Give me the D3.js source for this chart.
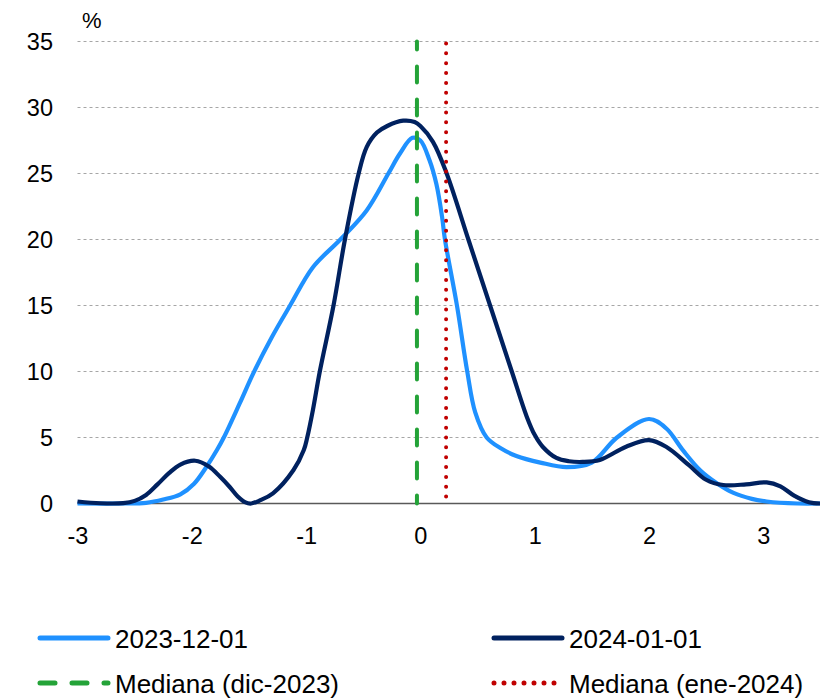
<!DOCTYPE html>
<html><head><meta charset="utf-8">
<script src="https://cdn.jsdelivr.net/npm/d3@7"></script>
<style>body{margin:0;background:#fff}svg{display:block}text{font-family:"Liberation Sans",Arial,Helvetica,sans-serif}</style>
</head><body><svg id="c" width="820" height="698"></svg>
<script>
const xTicks = [-3,-2,-1,0,1,2,3];
const yTicks = [0,5,10,15,20,25,30,35];
const dec_x = [-3,-2.6,-2.4,-2.25,-2.1,-1.98,-1.87,-1.78,-1.72,-1.58,-1.46,-1.3,-1.14,-0.94,-0.7,-0.47,-0.28,-0.18,-0.07,0.0,0.08,0.14,0.19,0.215,0.32,0.41,0.48,0.58,0.7,0.84,1.05,1.28,1.5,1.72,2.0,2.15,2.3,2.45,2.6,2.74,2.9,3.03,3.3,3.5];
const dec_y = [0,0,0.05,0.3,0.7,1.5,2.8,4.05,5.0,7.6,9.9,12.6,15.0,17.9,20.0,22.2,25.0,26.5,27.7,27.5,26.0,24.2,21.7,20.0,15.0,10.0,6.9,5.0,4.2,3.6,3.1,2.75,3.1,5.0,6.4,5.7,4.0,2.5,1.5,0.8,0.35,0.15,0,0];
const jan_x = [-3,-2.8,-2.6,-2.5,-2.4,-2.3,-2.2,-2.1,-1.97,-1.85,-1.75,-1.67,-1.6,-1.53,-1.48,-1.4,-1.29,-1.11,-1.02,-0.99,-0.94,-0.88,-0.76,-0.66,-0.54,-0.47,-0.38,-0.29,-0.15,-0.05,0.0,0.11,0.23,0.42,0.61,0.8,0.93,1.0,1.07,1.19,1.3,1.42,1.57,1.8,2.0,2.15,2.35,2.5,2.65,2.85,3.03,3.15,3.27,3.4,3.5];
const jan_y = [0.15,0.02,0.03,0.2,0.65,1.45,2.3,2.95,3.24,2.8,2.0,1.27,0.55,0.08,0,0.25,0.77,2.54,4.05,5.0,7.1,10.0,15.0,20.0,25.0,27.0,28.1,28.6,29.0,28.9,28.6,27.4,25.0,20.0,15.0,10.0,6.6,5.2,4.3,3.45,3.2,3.15,3.3,4.3,4.8,4.3,2.9,1.8,1.4,1.45,1.6,1.3,0.6,0.1,0];
const medianDec = -0.03;
const medianJan = 0.225;
const seriesNames = ["2023-12-01","2024-01-01"];
const medianNames = ["Mediana (dic-2023)","Mediana (ene-2024)"];

const svg = d3.select("#c");
const x = d3.scaleLinear().domain([-3,3.5]).range([77.5,820.4]);
const y = d3.scaleLinear().domain([0,35]).range([503.5,41.5]);

svg.append("g").selectAll("line").data(yTicks.filter(d=>d>0)).join("line")
  .attr("x1",x(-3)).attr("x2",820).attr("y1",d=>y(d)).attr("y2",d=>y(d))
  .attr("stroke","#a6a6a6").attr("stroke-width",1).attr("stroke-dasharray","3,3");
svg.append("line").attr("x1",x(-3)).attr("x2",820).attr("y1",y(0)).attr("y2",y(0))
  .attr("stroke","#595959").attr("stroke-width",1.5);

const yAxis = d3.axisLeft(y).tickValues(yTicks).tickSize(0).tickPadding(0);
const gy = svg.append("g").attr("transform","translate(53,0)").call(yAxis);
gy.select(".domain").remove();
gy.selectAll("text").attr("font-size",23.5).attr("fill","#000").attr("dy","0.36em").attr("font-family","Liberation Sans, Arial, sans-serif");

const xAxis = d3.axisBottom(x).tickValues(xTicks).tickSize(0).tickPadding(0).tickFormat(d=>String(d));
const gx = svg.append("g").attr("transform","translate(0,527)").call(xAxis);
gx.select(".domain").remove();
gx.selectAll("text").attr("font-size",23.5).attr("fill","#000").attr("dy","0.71em").attr("font-family","Liberation Sans, Arial, sans-serif");

svg.append("text").attr("x",82).attr("y",28).attr("font-size",22).text("%");

const line = d3.line().x(d=>x(d[0])).y(d=>Math.min(y(0), y(d[1]))).curve(d3.curveCatmullRom.alpha(0.5));
const decData = dec_x.map((v,i)=>[v,dec_y[i]]);
const janData = jan_x.map((v,i)=>[v,jan_y[i]]);

const cols = {dec:"#1f91ff", jan:"#00215f", green:"#24a338", red:"#c00000"};

svg.append("path").attr("d",line(decData)).attr("fill","none").attr("stroke",cols.dec).attr("stroke-width",4.2).attr("stroke-linejoin","round");
svg.append("path").attr("d",line(janData)).attr("fill","none").attr("stroke",cols.jan).attr("stroke-width",4.2).attr("stroke-linejoin","round");

svg.append("line").attr("x1",x(medianDec)).attr("x2",x(medianDec)).attr("y1",y(35)).attr("y2",y(0))
  .attr("stroke",cols.green).attr("stroke-width",4).attr("stroke-dasharray","16,17").attr("stroke-linecap","round").attr("stroke-dashoffset",8);
svg.append("line").attr("x1",x(medianJan)).attr("x2",x(medianJan)).attr("y1",y(35)+2).attr("y2",y(0))
  .attr("stroke",cols.red).attr("stroke-width",4).attr("stroke-dasharray","0,9.85").attr("stroke-linecap","round");

const leg = [
  {name:seriesNames[0], col:cols.dec, x:38, y:638, dash:null},
  {name:seriesNames[1], col:cols.jan, x:492, y:638, dash:null},
  {name:medianNames[0], col:cols.green, x:38, y:683, dash:"15,17"},
  {name:medianNames[1], col:cols.red, x:492, y:683, dash:"0,10"}
];
const lg = svg.append("g").selectAll("g").data(leg).join("g");
lg.append("line").attr("x1",d=>d.x+2).attr("x2",d=>d.x+70).attr("y1",d=>d.y).attr("y2",d=>d.y)
  .attr("stroke",d=>d.col).attr("stroke-width",5).attr("stroke-linecap","round")
  .attr("stroke-dasharray",d=>d.dash);
lg.append("text").attr("x",d=>d.x+77).attr("y",d=>d.y+9.5).attr("font-size",26).attr("fill","#000").text(d=>d.name);
</script></body></html>
